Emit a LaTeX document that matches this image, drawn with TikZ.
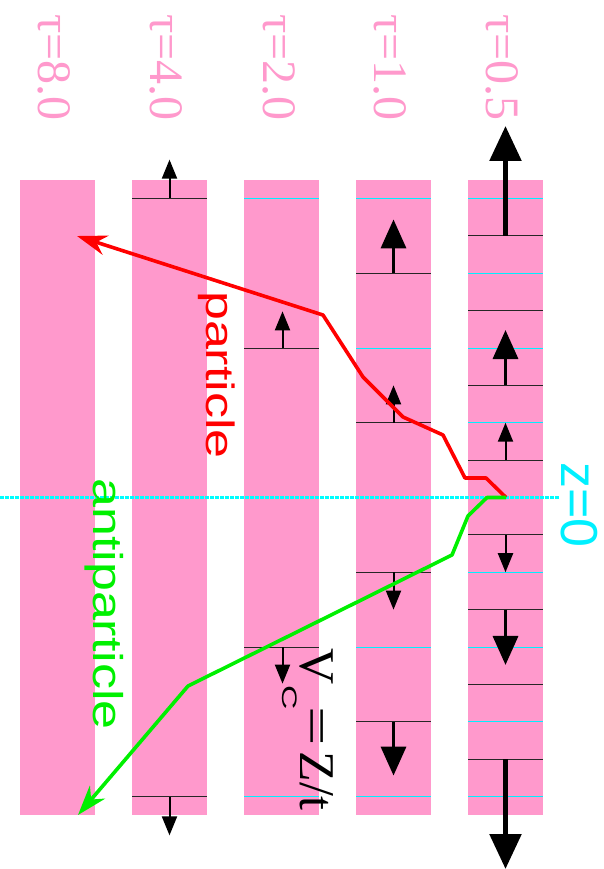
\documentclass[tikz,border=0pt]{standalone}
\usepackage{fontspec}
\setmainfont{Liberation Serif}
\setsansfont{Liberation Sans}
\usetikzlibrary{arrows.meta}
\definecolor{band}{RGB}{255,153,204}
\definecolor{particle}{RGB}{255,0,0}
\definecolor{antiparticle}{RGB}{0,240,0}
\definecolor{zline}{RGB}{0,240,255}
\definecolor{zdots}{RGB}{0,255,255}

\begin{document}
\begin{tikzpicture}[
        x=1pt, y=-74.75pt,
        strip/.style={fill=band, draw=none},
        cellline/.style={black!85, line width=0.8pt},
        gridline/.style={zline, line width=0.8pt},
        kicksmall/.style={-{Triangle[length=19pt,width=15pt]}, line width=2pt},
        kickmid/.style={-{Triangle[length=29pt,width=25pt]}, line width=3.5pt},
        kickbig/.style={-{Triangle[length=35pt,width=31pt]}, line width=5.5pt},
        track/.style={line width=3.6pt, line join=round,
                      -{Stealth[length=30pt,width=20pt]}},
        taulbl/.style={rotate=-90, band, inner sep=0pt,
                       font=\fontsize{48}{48}\selectfont},
        sanslbl/.style={rotate=-90, inner sep=0pt,
                        font=\sffamily\fontsize{52}{52}\selectfont},
    ]
    \useasboundingbox (0,-6.6555) rectangle (604,4.9699);

    % one band per time step
    \foreach \sx in {20,132,244,356,468}
        \fill[strip] (\sx,-4.25) rectangle ++(75,8.5);

    % cyan grid inside the bands
    \foreach \sx/\z in {468/1,468/2,468/3,468/4,356/2,356/4,244/4}
    {
        \draw[gridline] (\sx,\z) -- ++(75,0);
        \draw[gridline] (\sx,-\z) -- ++(75,0);
    }

    % cell boundaries
    \foreach \sx/\z in {468/0.5,468/1.5,468/2.5,468/3.5,356/1,356/3,244/2,132/4}
    {
        \draw[cellline] (\sx,\z) -- ++(75,0);
        \draw[cellline] (\sx,-\z) -- ++(75,0);
    }

    % z = 0, dotted
    \foreach \d in {0,5,...,555}
        \fill[zdots] (\d,-0.0134) rectangle ++(3.5,0.0268);

    % flow at the cell boundaries
    \foreach \cx/\z/\len/\kind in {505.5/0.5/0.5/kicksmall, 505.5/1.5/0.74/kickmid,
        505.5/3.5/1.47/kickbig, 393.5/1/0.5/kicksmall, 393.5/3/0.72/kickmid,
        282.5/2/0.49/kicksmall, 169.5/4/0.52/kicksmall}
    {
        \draw[\kind] (\cx,\z) -- ++(0,\len);
        \draw[\kind] (\cx,-\z) -- ++(0,-\len);
    }

    \coordinate (start) at (506,0);
    \coordinate (ptip) at (77,-3.498);
    \coordinate (atip) at (78,4.247);

    \draw[track, particle] (start) -- (486,-0.261) -- (465,-0.261) -- (443,-0.836)
        -- (403,-1.077) -- (363,-1.612) -- (323,-2.441) -- (ptip);
    \draw[track, antiparticle] (start) -- (487,0) -- (468,0.247) -- (452,0.769)
        -- (188,2.522) -- (atip);

    \node[taulbl] (tau8) at (54,-5.752) {τ=8.0};
    \node[taulbl] (tau4) at (166,-5.752) {τ=4.0};
    \node[taulbl] (tau2) at (279,-5.752) {τ=2.0};
    \node[taulbl] (tau1) at (390,-5.752) {τ=1.0};
    \node[taulbl] (tau05) at (502,-5.752) {τ=0.5};

    \node[sanslbl, particle, yscale=0.76] (plabel) at (217,-1.639) {particle};
    \node[sanslbl, antiparticle, yscale=0.8] (alabel) at (104,1.425) {antiparticle};
    \node[sanslbl, zline] (zlabel) at (579,0.10) {z=0};

    \node[rotate=-90, anchor=base west, inner sep=0pt,
          font=\fontsize{50}{50}\selectfont] (vlabel) at (300,2.013)
        {V\rlap{\hspace{1pt}\raisebox{-18pt}{\sffamily\fontsize{21}{21}\selectfont\scalebox{1.6}[1]{C}}}\hspace{22pt}\scalebox{1.4}[1]{=}\hspace{6pt}Z/t};
\end{tikzpicture}
\end{document}
